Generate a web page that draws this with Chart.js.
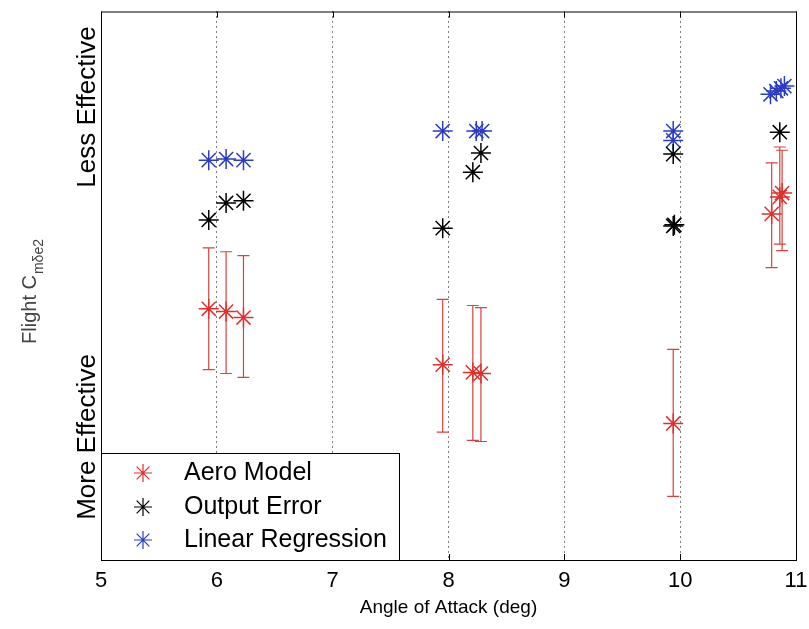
<!DOCTYPE html>
<html>
<head>
<meta charset="utf-8">
<script src="https://cdn.jsdelivr.net/npm/chart.js@4/dist/chart.umd.min.js"></script>
<style>
    html, body { margin: 0; padding: 0; background: #fff; }
    #wrap { width: 809px; height: 629px; }
</style>
</head>
<body>
<div id="wrap"><canvas id="cmChart" width="809" height="629"></canvas></div>
<script>
// angle of attack (deg) and relative effectiveness for each method
const aeroX = [5.93, 6.08, 6.23, 7.95, 8.21, 8.28, 9.94, 10.79, 10.86, 10.88];
const aeroY = [45.8, 45.3, 44.2, 35.6, 34.2, 34.0, 24.9, 63.1, 66.2, 66.9];
const aeroHigh = [56.9, 56.2, 55.5, 47.5, 46.4, 46.0, 38.4, 72.4, 75.3, 74.7];
const aeroLow = [34.7, 34.0, 33.3, 23.3, 21.8, 21.6, 11.6, 53.3, 57.6, 56.4];

const outputErrX = [5.93, 6.08, 6.23, 7.95, 8.21, 8.28, 9.94, 9.94, 9.95, 10.86];
const outputErrY = [62.0, 65.1, 65.5, 60.5, 70.7, 74.2, 74.0, 60.9, 61.1, 78.0];

const linRegX = [5.93, 6.08, 6.23, 7.95, 8.24, 8.29, 9.94, 9.94, 10.78, 10.83, 10.87, 10.90];
const linRegY = [72.9, 73.1, 72.9, 78.2, 78.2, 78.2, 78.2, 76.5, 84.9, 85.5, 86.0, 86.4];

const seriesNames = ['Aero Model', 'Output Error', 'Linear Regression'];
const xTicks = [5, 6, 7, 8, 9, 10, 11];

const RED = '#e0302c';
const BAR_RED = '#d8423e';
const BLACK = '#000000';
const BLUE = '#2a3cc4';
const FONT = 'Arial, "Liberation Sans", sans-serif';

const toPoints = (xs, ys) => xs.map((x, i) => ({ x: x, y: ys[i] }));

// error bars for the aero model estimates
const errorBars = {
    id: 'errorBars',
    beforeDatasetsDraw(chart) {
        const { ctx, scales: { x, y } } = chart;
        ctx.save();
        ctx.strokeStyle = BAR_RED;
        ctx.lineWidth = 1.2;
        aeroX.forEach((v, i) => {
            const px = x.getPixelForValue(v);
            const top = y.getPixelForValue(aeroHigh[i]);
            const bot = y.getPixelForValue(aeroLow[i]);
            ctx.beginPath();
            ctx.moveTo(px, top); ctx.lineTo(px, bot);
            ctx.moveTo(px - 6, top); ctx.lineTo(px + 6, top);
            ctx.moveTo(px - 6, bot); ctx.lineTo(px + 6, bot);
            ctx.stroke();
        });
        ctx.restore();
    }
};

function star(ctx, cx, cy, r) {
    const d = r * Math.SQRT1_2;
    ctx.beginPath();
    ctx.moveTo(cx - r, cy); ctx.lineTo(cx + r, cy);
    ctx.moveTo(cx, cy - r); ctx.lineTo(cx, cy + r);
    ctx.moveTo(cx - d, cy - d); ctx.lineTo(cx + d, cy + d);
    ctx.moveTo(cx - d, cy + d); ctx.lineTo(cx + d, cy - d);
    ctx.stroke();
}

// axes box, inward ticks, y labels and the legend box
const frame = {
    id: 'frame',
    afterDatasetsDraw(chart) {
        const { ctx, chartArea: a, scales: { x } } = chart;
        ctx.save();
        ctx.strokeStyle = '#000';
        ctx.lineWidth = 1;
        ctx.strokeRect(a.left + 0.5, a.top + 0.5, a.right - a.left, a.bottom - a.top);
        ctx.beginPath();
        xTicks.forEach(t => {
            const px = Math.round(x.getPixelForValue(t)) + 0.5;
            ctx.moveTo(px, a.bottom); ctx.lineTo(px, a.bottom - 6);
            ctx.moveTo(px, a.top); ctx.lineTo(px, a.top + 6);
        });
        ctx.stroke();

        // legend
        const lx = a.left, ly = 453, lw = 298, lh = a.bottom - 453;
        ctx.fillStyle = '#fff';
        ctx.fillRect(lx, ly, lw, lh);
        ctx.strokeRect(lx + 0.5, ly + 0.5, lw, lh);
        const rows = [473, 507, 540];
        chart.data.datasets.forEach((ds, i) => {
            ctx.strokeStyle = ds.borderColor;
            ctx.lineWidth = 1.2;
            star(ctx, 143, rows[i], 9);
            ctx.fillStyle = '#000';
            ctx.font = '25px ' + FONT;
            ctx.textBaseline = 'middle';
            ctx.textAlign = 'left';
            ctx.fillText(ds.label, 184, rows[i]);
        });

        // y axis wording
        ctx.fillStyle = '#000';
        ctx.font = '26px ' + FONT;
        ctx.textAlign = 'center';
        ctx.textBaseline = 'middle';
        [['Less Effective', 107], ['More Effective', 437]].forEach(([txt, cy]) => {
            ctx.save();
            ctx.translate(88, cy);
            ctx.rotate(-Math.PI / 2);
            ctx.fillText(txt, 0, 0);
            ctx.restore();
        });

        ctx.save();
        ctx.translate(30, 292);
        ctx.rotate(-Math.PI / 2);
        ctx.fillStyle = '#444';
        ctx.textAlign = 'left';
        const main = 'Flight C';
        ctx.font = '20px ' + FONT;
        const mw = ctx.measureText(main).width;
        ctx.font = '14px ' + FONT;
        const sw = ctx.measureText('mδe2').width;
        const start = -(mw + sw) / 2;
        ctx.font = '20px ' + FONT;
        ctx.fillText(main, start, 0);
        ctx.font = '14px ' + FONT;
        ctx.fillText('mδe2', start + mw + 1, 9);
        ctx.restore();

        ctx.restore();
    }
};

const ctx = document.getElementById('cmChart').getContext('2d');
new Chart(ctx, {
    type: 'scatter',
    data: {
        datasets: [
            { label: seriesNames[0], data: toPoints(aeroX, aeroY), borderColor: RED, backgroundColor: RED },
            { label: seriesNames[1], data: toPoints(outputErrX, outputErrY), borderColor: BLACK, backgroundColor: BLACK },
            { label: seriesNames[2], data: toPoints(linRegX, linRegY), borderColor: BLUE, backgroundColor: BLUE }
        ].map(ds => Object.assign(ds, {
            pointStyle: 'star', pointRadius: 10, pointBorderWidth: 1.5, pointHoverRadius: 10
        }))
    },
    options: {
        responsive: false,
        animation: false,
        events: [],
        layout: { padding: { left: 101, right: 13, top: 10, bottom: 6 } },
        plugins: {
            legend: { display: false },
            tooltip: { enabled: false }
        },
        scales: {
            x: {
                type: 'linear',
                min: 5,
                max: 11,
                afterBuildTicks: axis => { axis.ticks = xTicks.map(v => ({ value: v })); },
                afterFit: axis => {
                    axis.height = 63;
                    axis.paddingLeft = 0;
                    axis.paddingRight = 0;
                },
                ticks: {
                    color: '#000',
                    padding: 8,
                    font: { family: FONT, size: 22 }
                },
                grid: {
                    color: '#000',
                    lineWidth: 1,
                    drawTicks: false
                },
                border: { display: false, dash: [1, 4] },
                title: {
                    display: true,
                    text: 'Angle of Attack (deg)',
                    color: '#000',
                    font: { family: FONT, size: 19 }
                }
            },
            y: {
                min: 0,
                max: 100,
                display: false
            }
        }
    },
    plugins: [errorBars, frame]
});
</script>
</body>
</html>
